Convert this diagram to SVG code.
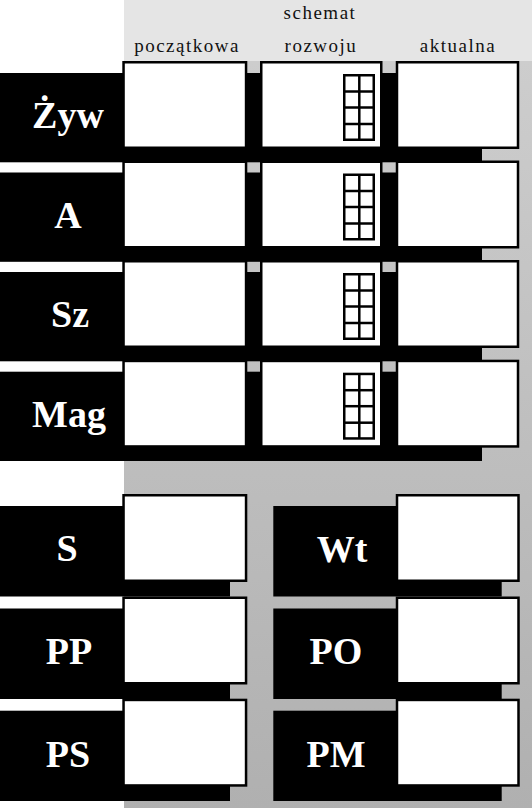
<svg xmlns="http://www.w3.org/2000/svg" xmlns:xlink="http://www.w3.org/1999/xlink" width="532" height="808" viewBox="0 0 532 808">
  <style>
    .panel { fill: #000000; }
    .box { fill: #ffffff; stroke: #000000; stroke-width: 2.5; }
    .grid { fill: none; stroke: #000000; stroke-width: 2.5; }
    .label { font-family: "Liberation Serif", "DejaVu Serif", serif; font-weight: bold; font-size: 38px; fill: #ffffff; text-anchor: middle; }
    .head { font-family: "Liberation Serif", "DejaVu Serif", serif; font-size: 19px; letter-spacing: 1.5px; fill: #111111; text-anchor: middle; }
  </style>
  <defs>
    <linearGradient id="bgGray" x1="0" y1="61" x2="0" y2="808" gradientUnits="userSpaceOnUse">
      <stop offset="0" stop-color="#cdcdcd"/>
      <stop offset="1" stop-color="#b0b0b0"/>
    </linearGradient>
    <g id="grid">
      <rect class="grid" x="344.25" y="2.25" width="29.5" height="64.5"/>
      <line class="grid" x1="359.3" y1="2" x2="359.3" y2="67"/>
      <line class="grid" x1="344" y1="18.5" x2="374" y2="18.5"/>
      <line class="grid" x1="344" y1="34.5" x2="374" y2="34.5"/>
      <line class="grid" x1="344" y1="51" x2="374" y2="51"/>
    </g>
  </defs>

  <g id="background">
    <rect x="0" y="0" width="532" height="808" fill="#ffffff"/>
    <rect x="124" y="0" width="408" height="61" fill="#e5e5e5"/>
    <rect x="124" y="61" width="408" height="747" fill="url(#bgGray)"/>
  </g>

  <g id="header">
    <text class="head" x="187" y="52">początkowa</text>
    <text class="head" x="320" y="19">schemat</text>
    <text class="head" x="321" y="52">rozwoju</text>
    <text class="head" x="458" y="52">aktualna</text>
  </g>

  <g id="row-zyw">
    <rect class="panel" x="0" y="73" width="482" height="89.3"/>
    <rect class="box" x="123.55" y="62.25" width="122.5" height="85.5"/>
    <rect class="box" x="261.25" y="62.25" width="120" height="85.5"/>
    <rect class="box" x="397" y="62.25" width="121" height="85.5"/>
    <use xlink:href="#grid" href="#grid" transform="translate(0,73)"/>
    <text class="label" x="68" y="128">Żyw</text>
  </g>

  <g id="row-a">
    <rect class="panel" x="0" y="172.5" width="482" height="89.3"/>
    <rect class="box" x="123.55" y="161.75" width="122.5" height="85.5"/>
    <rect class="box" x="261.25" y="161.75" width="120" height="85.5"/>
    <rect class="box" x="397" y="161.75" width="121" height="85.5"/>
    <use xlink:href="#grid" href="#grid" transform="translate(0,172.5)"/>
    <text class="label" x="68" y="227.5">A</text>
  </g>

  <g id="row-sz">
    <rect class="panel" x="0" y="272" width="482" height="89.3"/>
    <rect class="box" x="123.55" y="261.25" width="122.5" height="85.5"/>
    <rect class="box" x="261.25" y="261.25" width="120" height="85.5"/>
    <rect class="box" x="397" y="261.25" width="121" height="85.5"/>
    <use xlink:href="#grid" href="#grid" transform="translate(0,272)"/>
    <text class="label" x="70" y="327">Sz</text>
  </g>

  <g id="row-mag">
    <rect class="panel" x="0" y="371.7" width="482" height="89.3"/>
    <rect class="box" x="123.55" y="360.95" width="122.5" height="85.5"/>
    <rect class="box" x="261.25" y="360.95" width="120" height="85.5"/>
    <rect class="box" x="397" y="360.95" width="121" height="85.5"/>
    <use xlink:href="#grid" href="#grid" transform="translate(0,371.7)"/>
    <text class="label" x="69" y="426.7">Mag</text>
  </g>

  <g id="stat-s">
    <rect class="panel" x="0" y="506" width="230" height="90.5"/>
    <rect class="box" x="123.55" y="495.25" width="122.5" height="85.5"/>
    <text class="label" x="67" y="561">S</text>
  </g>
  <g id="stat-pp">
    <rect class="panel" x="0" y="608.5" width="230" height="90.5"/>
    <rect class="box" x="123.55" y="597.75" width="122.5" height="85.5"/>
    <text class="label" x="69" y="663.5">PP</text>
  </g>
  <g id="stat-ps">
    <rect class="panel" x="0" y="710.7" width="230" height="90.3"/>
    <rect class="box" x="123.55" y="699.95" width="122.5" height="85.5"/>
    <text class="label" x="68" y="766.5">PS</text>
  </g>

  <g id="stat-wt">
    <rect class="panel" x="273.3" y="506" width="228.4" height="90.5"/>
    <rect class="box" x="397" y="495.25" width="121.5" height="85.5"/>
    <text class="label" x="342" y="562">Wt</text>
  </g>
  <g id="stat-po">
    <rect class="panel" x="273.3" y="608.5" width="228.4" height="90.5"/>
    <rect class="box" x="397" y="597.75" width="121.5" height="85.5"/>
    <text class="label" x="336" y="663.5">PO</text>
  </g>
  <g id="stat-pm">
    <rect class="panel" x="273.3" y="710.7" width="228.4" height="90.3"/>
    <rect class="box" x="397" y="699.95" width="121.5" height="85.5"/>
    <text class="label" x="336" y="766.5">PM</text>
  </g>
</svg>
